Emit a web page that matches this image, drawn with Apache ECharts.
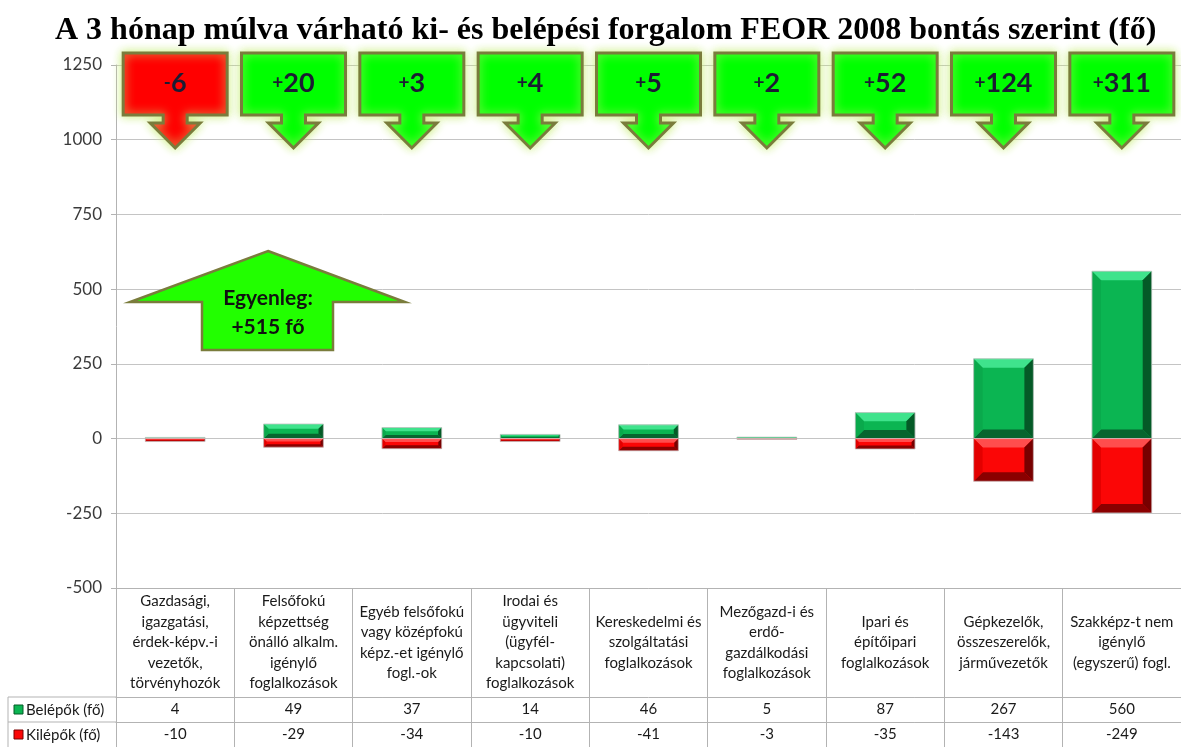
<!DOCTYPE html>
<html>
<head>
<meta charset="utf-8">
<script src="https://cdn.jsdelivr.net/npm/echarts@6/dist/echarts.min.js"></script>
<style>
html, body { margin: 0; padding: 0; background: #fff; }
#main { width: 1181px; height: 747px; }
</style>
</head>
<body>
<div id="main"></div>
<script>
// adatok
var kategoriak = [
    'Gazdasági,\nigazgatási,\nérdek-képv.-i\nvezetők,\ntörvényhozók',
    'Felsőfokú\nképzettség\nönálló alkalm.\nigénylő\nfoglalkozások',
    'Egyéb felsőfokú\nvagy középfokú\nképz.-et igénylő\nfogl.-ok',
    'Irodai és\nügyviteli\n(ügyfél-\nkapcsolati)\nfoglalkozások',
    'Kereskedelmi és\nszolgáltatási\nfoglalkozások',
    'Mezőgazd-i és\nerdő-\ngazdálkodási\nfoglalkozások',
    'Ipari és\népítőipari\nfoglalkozások',
    'Gépkezelők,\nösszeszerelők,\njárművezetők',
    'Szakképz-t nem\nigénylő\n(egyszerű) fogl.'
];
var belepok = [4, 49, 37, 14, 46, 5, 87, 267, 560];
var kilepok = [-10, -29, -34, -10, -41, -3, -35, -143, -249];
var egyenleg = [-6, 20, 3, 4, 5, 2, 52, 124, 311];
var osszesen = '+515 fő';
var yTicks = { min: -500, max: 1250, interval: 250 };

var font = 'Lato, "Open Sans", sans-serif';
var lineCol = '#b3b3b3';

var zold = { face: '#0bb552', top: '#3fe38c', left: '#0aa94c', right: '#045a27', bottom: '#07652f' };
var piros = { face: '#fb0606', top: '#ff4d4d', left: '#e30000', right: '#780000', bottom: '#8a0000' };

function bevelBar(pal) {
    return function (params, api) {
        var i = api.value(0), v = api.value(1);
        var p0 = api.coord([i, 0]), p1 = api.coord([i, v]);
        var w = api.size([1, 0])[0] * 0.505;
        var x0 = p0[0] - w / 2, x1 = p0[0] + w / 2;
        var yT = Math.min(p0[1], p1[1]), yB = Math.max(p0[1], p1[1]);
        var h = yB - yT;
        var b = Math.min(9, h / 3, w / 3);
        return {
            type: 'group',
            children: [
                { type: 'rect', shape: { x: x0, y: yT, width: w, height: h }, style: { fill: pal.face } },
                { type: 'polygon', shape: { points: [[x0, yT], [x1, yT], [x1 - b, yT + b], [x0 + b, yT + b]] }, style: { fill: pal.top } },
                { type: 'polygon', shape: { points: [[x0, yB], [x1, yB], [x1 - b, yB - b], [x0 + b, yB - b]] }, style: { fill: pal.bottom } },
                { type: 'polygon', shape: { points: [[x0, yT], [x0 + b, yT + b], [x0 + b, yB - b], [x0, yB]] }, style: { fill: pal.left } },
                { type: 'polygon', shape: { points: [[x1, yT], [x1 - b, yT + b], [x1 - b, yB - b], [x1, yB]] }, style: { fill: pal.right } },
                { type: 'rect', shape: { x: x0, y: yT, width: w, height: h }, style: { fill: null, stroke: 'rgba(200,200,200,0.8)', lineWidth: 1 } }
            ]
        };
    };
}

function nyil(params, api) {
    var i = api.value(0), v = api.value(1);
    var cx = api.coord([i, yTicks.max])[0];
    var ty = api.coord([i, yTicks.max])[1] - 12;
    var pts = [
        [cx - 52, ty], [cx + 52, ty], [cx + 52, ty + 62], [cx + 12, ty + 62], [cx + 12, ty + 70],
        [cx + 25, ty + 70], [cx, ty + 95], [cx - 25, ty + 70], [cx - 12, ty + 70], [cx - 12, ty + 62],
        [cx - 52, ty + 62]
    ];
    var sign = v < 0 ? '-' : '+';
    return {
        type: 'group',
        children: [
            {
                type: 'polygon', shape: { points: pts },
                style: {
                    fill: v < 0 ? '#ff0000' : '#00ff00', stroke: '#7a7c3c', lineWidth: 3, lineJoin: 'miter',
                    shadowBlur: 10, shadowColor: 'rgba(200,238,120,0.95)'
                }
            },
            {
                type: 'text',
                style: {
                    x: cx, y: ty + 30, align: 'center', verticalAlign: 'middle',
                    text: '{s|' + sign + '}{n|' + Math.abs(v) + '}',
                    rich: {
                        s: { fontSize: 19, fontWeight: 'bold', fontFamily: font, fill: '#1c1c33' },
                        n: { fontSize: 27, fontWeight: 'bold', fontFamily: font, fill: '#1c1c33' }
                    }
                }
            }
        ]
    };
}

function tablaTengely(adat, offset) {
    return {
        type: 'category',
        data: adat.map(String),
        position: 'bottom',
        offset: offset,
        axisLine: { show: true, onZero: false, lineStyle: { color: lineCol } },
        axisTick: { show: true, length: 25, interval: 0, lineStyle: { color: lineCol } },
        axisLabel: { interval: 0, margin: 12.5, verticalAlign: 'middle', fontSize: 15, color: '#1a1a1a', fontFamily: font }
    };
}

var myChart = echarts.init(document.getElementById('main'));

var option = {
    animation: false,
    title: {
        text: 'A 3 hónap múlva várható ki- és belépési forgalom FEOR 2008 bontás szerint (fő)',
        left: 50, top: 10,
        textStyle: { fontFamily: '"Liberation Serif", serif', fontWeight: 'bold', fontSize: 32, color: '#000' }
    },
    grid: { left: 116, right: -6, top: 65, bottom: 159 },
    xAxis: [
        {
            type: 'category',
            data: kategoriak,
            position: 'bottom',
            axisLine: { show: true, onZero: false, lineStyle: { color: lineCol } },
            axisTick: { show: true, length: 109, interval: 0, lineStyle: { color: lineCol } },
            axisLabel: { interval: 0, margin: 54.5, verticalAlign: 'middle', fontSize: 15, lineHeight: 20.5, color: '#1a1a1a', fontFamily: font }
        },
        tablaTengely(belepok, 109),
        tablaTengely(kilepok, 134)
    ],
    yAxis: {
        type: 'value',
        min: yTicks.min, max: yTicks.max, interval: yTicks.interval,
        axisLine: { show: true, lineStyle: { color: lineCol } },
        axisTick: { show: true, length: 5, lineStyle: { color: lineCol } },
        splitLine: { lineStyle: { color: '#c4c4c4' } },
        axisLabel: {
            fontSize: 17, color: '#3a3a3a', margin: 14, fontFamily: font,
            formatter: function (v) { return String(v); }
        }
    },
    series: [
        {
            name: 'Belépők (fő)', type: 'custom', xAxisIndex: 0,
            renderItem: bevelBar(zold),
            data: belepok.map(function (v, i) { return [i, v]; })
        },
        {
            name: 'Kilépők (fő)', type: 'custom', xAxisIndex: 0,
            renderItem: bevelBar(piros),
            data: kilepok.map(function (v, i) { return [i, v]; })
        },
        {
            name: 'Egyenleg', type: 'custom', xAxisIndex: 0, z: 5,
            renderItem: nyil,
            data: egyenleg.map(function (v, i) { return [i, v]; })
        }
    ],
    graphic: [
        // tábla bal oszlop
        { type: 'line', shape: { x1: 8, y1: 697, x2: 116, y2: 697 }, style: { stroke: lineCol } },
        { type: 'line', shape: { x1: 8, y1: 722, x2: 116, y2: 722 }, style: { stroke: lineCol } },
        { type: 'line', shape: { x1: 8, y1: 697, x2: 8, y2: 747 }, style: { stroke: lineCol } },
        { type: 'rect', shape: { x: 14, y: 705, width: 9, height: 9 }, style: { fill: zold.face, stroke: zold.right, lineWidth: 1 } },
        { type: 'rect', shape: { x: 14, y: 730, width: 9, height: 9 }, style: { fill: piros.face, stroke: piros.right, lineWidth: 1 } },
        { type: 'text', style: { x: 26, y: 710, text: 'Belépők (fő)', fontSize: 15, fontFamily: font, fill: '#1a1a1a', verticalAlign: 'middle' } },
        { type: 'text', style: { x: 26, y: 735, text: 'Kilépők (fő)', fontSize: 15, fontFamily: font, fill: '#1a1a1a', verticalAlign: 'middle' } },
        // egyenleg nyíl
        {
            type: 'polygon', z: 10,
            shape: { points: [[268, 251], [405, 302], [333, 302], [333, 350], [202, 350], [202, 302], [130, 302]] },
            style: { fill: '#22ff00', stroke: '#7a7c3c', lineWidth: 2.5 }
        },
        {
            type: 'text', z: 11,
            style: {
                x: 268, y: 313, text: 'Egyenleg:\n' + osszesen, align: 'center', verticalAlign: 'middle',
                fontSize: 21, lineHeight: 29, fontWeight: 'bold', fontFamily: font, fill: '#111'
            }
        }
    ]
};

myChart.setOption(option);
</script>
</body>
</html>
